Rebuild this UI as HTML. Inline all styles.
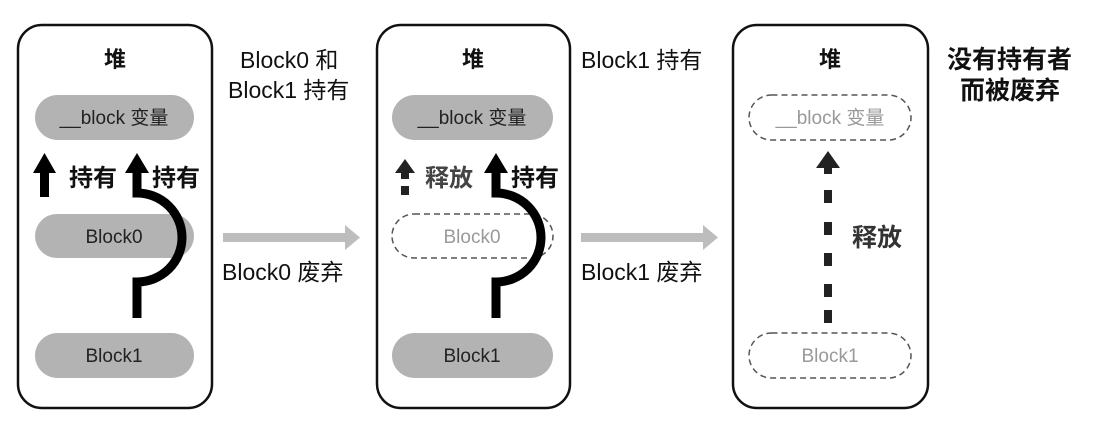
<!DOCTYPE html>
<html><head><meta charset="utf-8"><style>
html,body{margin:0;padding:0;background:#fff;}
svg{display:block;font-family:"Liberation Sans","Noto Sans CJK SC",sans-serif;}
</style></head><body>
<svg width="1106" height="422" viewBox="0 0 1106 422" xmlns="http://www.w3.org/2000/svg">
<g fill="none" stroke="#111" stroke-width="2.5">
<rect x="18" y="25" width="194" height="383" rx="24"/>
<rect x="377" y="25" width="193" height="383" rx="24"/>
<rect x="733" y="25" width="195" height="383" rx="24"/>
</g>
<g font-size="22" font-weight="bold" fill="#111" text-anchor="middle">
<text x="115" y="67">堆</text><text x="473" y="67">堆</text><text x="830" y="67">堆</text>
</g>
<!-- panel 1 -->
<rect x="35" y="95" width="159" height="45" rx="22.5" fill="#b3b3b3"/>
<rect x="35" y="214" width="159" height="44" rx="22" fill="#b3b3b3"/>
<rect x="35" y="333" width="159" height="45" rx="22.5" fill="#b3b3b3"/>
<g font-size="19" fill="#222" text-anchor="middle">
<text x="114" y="124">__block 变量</text>
<text x="114" y="243">Block0</text>
<text x="114" y="362">Block1</text>
</g>
<rect x="40" y="170" width="9" height="27" fill="#000"/>
<polygon points="33,173 56,173 44.5,153" fill="#000"/>
<path d="M137 318 V282 A45 44.5 0 0 0 137 193 V170" fill="none" stroke="#000" stroke-width="9"/>
<polygon points="125,173 149,173 137,153" fill="#000"/>
<g font-size="24" font-weight="bold" fill="#111">
<text x="69" y="186">持有</text><text x="152" y="186">持有</text>
</g>
<!-- panel 2 -->
<rect x="392" y="95" width="161" height="45" rx="22.5" fill="#b3b3b3"/>
<rect x="392" y="214" width="161" height="44" rx="22" fill="none" stroke="#555" stroke-width="1.5" stroke-dasharray="6,4"/>
<rect x="392" y="333" width="161" height="45" rx="22.5" fill="#b3b3b3"/>
<g font-size="19" text-anchor="middle">
<text x="472" y="124" fill="#222">__block 变量</text>
<text x="472" y="243" fill="#999">Block0</text>
<text x="472" y="362" fill="#222">Block1</text>
</g>
<rect x="401" y="172" width="8" height="7" fill="#222"/>
<rect x="401" y="186" width="8" height="9" fill="#222"/>
<polygon points="395,173 415,173 405,159" fill="#222"/>
<path d="M496 318 V282 A45 44.5 0 0 0 496 193 V170" fill="none" stroke="#000" stroke-width="9"/>
<polygon points="484,173 508,173 496,153" fill="#000"/>
<g font-size="24" font-weight="bold" fill="#111">
<text x="425" y="186" fill="#444">释放</text><text x="511" y="186">持有</text>
</g>
<!-- panel 3 -->
<rect x="749" y="95" width="162" height="45" rx="22.5" fill="none" stroke="#555" stroke-width="1.5" stroke-dasharray="6,4"/>
<rect x="749" y="333" width="162" height="45" rx="22.5" fill="none" stroke="#555" stroke-width="1.5" stroke-dasharray="6,4"/>
<g font-size="19" fill="#999" text-anchor="middle">
<text x="830" y="124">__block 变量</text>
<text x="830" y="362">Block1</text>
</g>
<polygon points="816,168 840,168 828,151" fill="#222"/>
<rect x="824" y="166" width="8" height="8" fill="#222"/>
<g fill="#222">
<rect x="824" y="190" width="8" height="13"/><rect x="824" y="222" width="8" height="13"/>
<rect x="824" y="253" width="8" height="13"/><rect x="824" y="284" width="8" height="13"/>
<rect x="824" y="310" width="8" height="13"/>
</g>
<text x="852" y="246" font-size="25" font-weight="bold" fill="#333">释放</text>
<!-- grey arrows -->
<rect x="223" y="233" width="124" height="9" fill="#bdbdbd"/>
<polygon points="345,225 360,237.5 345,250" fill="#bdbdbd"/>
<rect x="581" y="233" width="124" height="9" fill="#bdbdbd"/>
<polygon points="703,225 718,237.5 703,250" fill="#bdbdbd"/>
<!-- side labels -->
<g font-size="23" fill="#111">
<text x="240" y="68">Block0 和</text>
<text x="228" y="98">Block1 持有</text>
<text x="222" y="280">Block0 废弃</text>
<text x="581" y="68">Block1 持有</text>
<text x="581" y="280">Block1 废弃</text>
</g>
<g font-size="25" font-weight="bold" fill="#111">
<text x="947" y="68">没有持有者</text>
<text x="960" y="99">而被废弃</text>
</g>
</svg>
</body></html>
